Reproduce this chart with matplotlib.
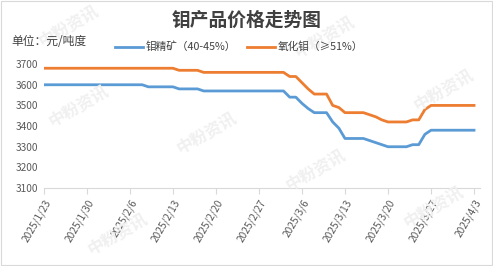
import matplotlib
matplotlib.use("Agg")
import matplotlib.pyplot as plt
import pandas as pd
from matplotlib.patches import Rectangle

plt.rcParams["font.family"] = ["Noto Sans CJK SC", "DejaVu Sans"]

BLUE = "#5B9BD5"
ORANGE = "#ED7D31"
GREY = "#595959"

dates = pd.date_range("2025-01-23", "2025-04-03", freq="D")
tick_labels = ["2025/1/23", "2025/1/30", "2025/2/6", "2025/2/13", "2025/2/20",
               "2025/2/27", "2025/3/6", "2025/3/13", "2025/3/20", "2025/3/27",
               "2025/4/3"]

# daily prices, yuan per ton-degree
concentrate = ([3600] * 17 + [3590] * 5 + [3580] * 4 + [3570] * 14 +
               [3540, 3540, 3510, 3485, 3465, 3465, 3465, 3420, 3390, 3340,
                3340, 3340, 3340, 3330, 3320, 3310, 3300, 3300, 3300, 3300,
                3310, 3310, 3360] + [3380] * 8)
oxide = ([3680] * 22 + [3670] * 4 + [3660] * 14 +
         [3640, 3640, 3610, 3580, 3555, 3555, 3555, 3500, 3490, 3465,
          3465, 3465, 3465, 3455, 3445, 3430, 3420, 3420, 3420, 3420,
          3430, 3430, 3480] + [3500] * 8)

days = list(range(len(dates)))

fig = plt.figure(figsize=(4.93, 2.66), dpi=100)
fig.patches.append(Rectangle((0.002, 0.004), 0.995, 0.992, transform=fig.transFigure,
                             fill=False, edgecolor="#d9d9d9", lw=0.8))

# faint watermark, kept inside the frame
for (x, y) in [(0.14, 0.90), (0.16, 0.60), (0.42, 0.50), (0.66, 0.86),
               (0.64, 0.36), (0.24, 0.12), (0.88, 0.22), (0.90, 0.66)]:
    fig.text(x, y, "中粉资讯", fontsize=12, color="#f0f0f0", rotation=30,
             ha="center", va="center", fontweight="bold", zorder=0)

ax = fig.add_axes([0.089, 0.293, 0.885, 0.466])
ax.patch.set_alpha(0)
ax.plot(days, concentrate, color=BLUE, lw=2.0, label="钼精矿（40-45%）")
ax.plot(days, oxide, color=ORANGE, lw=2.0, label="氧化钼（≥51%）")

ax.set_xlim(0, 71)
ax.set_ylim(3100, 3700)
ax.set_yticks(range(3100, 3701, 100))
ax.set_xticks(days[::7])
ax.set_xticklabels(tick_labels, rotation=60, ha="right", rotation_mode="anchor")
ax.tick_params(axis="x", length=4, color="#d9d9d9", labelsize=7.3, labelcolor=GREY, pad=3)
ax.tick_params(axis="y", length=0, labelsize=7.3, labelcolor=GREY, pad=4)
for s in ("top", "right", "left"):
    ax.spines[s].set_visible(False)
ax.spines["bottom"].set_color("#d9d9d9")

fig.text(0.50, 0.925, "钼产品价格走势图", fontsize=13.5, fontweight="bold",
         color="#404040", ha="center", va="center")
fig.text(0.024, 0.845, "单位：元/吨度", fontsize=8.5, color="#404040",
         ha="left", va="center")
fig.legend(loc="center", bbox_to_anchor=(0.485, 0.823), ncol=2, frameon=False,
           fontsize=7.7, handlelength=2.6, columnspacing=1.0, handletextpad=0.3,
           labelcolor="#404040")

fig.savefig("out.png", dpi=100)
